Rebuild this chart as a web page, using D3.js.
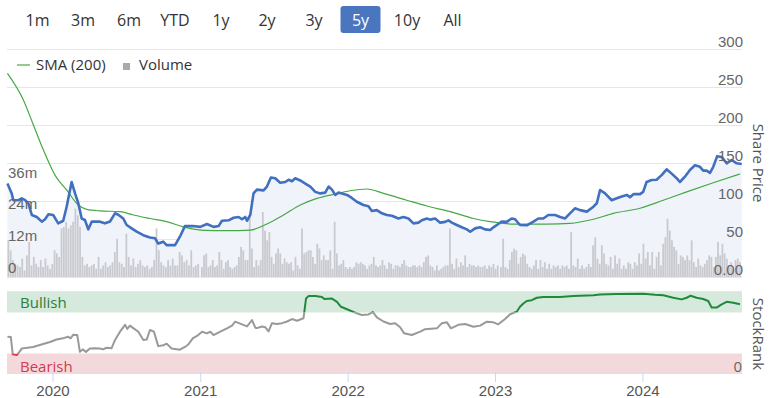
<!DOCTYPE html>
<html>
<head>
<meta charset="utf-8">
<script src="https://cdn.jsdelivr.net/npm/d3@7"></script>
<style>
    body { margin: 0; background: #fff; }
    svg { font-family: "Open Sans", sans-serif; display: block; }
</style>
</head>
<body>
<div id="plot"></div>
<script>
// Range buttons
const ranges = ["1m", "3m", "6m", "YTD", "1y", "2y", "3y", "5y", "10y", "All"];
const selectedRange = "5y";

// Share price, [decimal year, price]
const price = [
    [2019.694, 123], [2019.723, 110], [2019.734, 101], [2019.768, 101], [2019.791, 103.5],
    [2019.814, 101], [2019.836, 97], [2019.859, 81.6], [2019.893, 79], [2019.927, 72.8],
    [2019.949, 76], [2019.972, 82.5], [2020.005, 81.6], [2020.039, 70.6], [2020.073, 74],
    [2020.096, 92.5], [2020.130, 125], [2020.153, 110], [2020.175, 97], [2020.198, 77],
    [2020.220, 75], [2020.243, 62.7], [2020.266, 72.8], [2020.322, 72.8], [2020.356, 70.6],
    [2020.390, 73], [2020.424, 83.8], [2020.446, 82], [2020.480, 77], [2020.503, 68.4],
    [2020.537, 64], [2020.571, 59.6], [2020.616, 55], [2020.661, 52], [2020.695, 51],
    [2020.717, 44], [2020.751, 46.5], [2020.774, 42], [2020.831, 42], [2020.864, 53],
    [2020.898, 67], [2020.955, 67], [2021.000, 66], [2021.045, 69.7], [2021.090, 66],
    [2021.124, 67], [2021.147, 74], [2021.192, 74.6], [2021.226, 78], [2021.260, 79],
    [2021.283, 76], [2021.305, 79], [2021.317, 74], [2021.339, 81.6], [2021.361, 110],
    [2021.384, 115], [2021.429, 114], [2021.452, 119], [2021.479, 131], [2021.508, 130],
    [2021.542, 124], [2021.576, 125], [2021.599, 128], [2021.622, 126], [2021.644, 130],
    [2021.678, 127], [2021.712, 123], [2021.746, 119], [2021.780, 112], [2021.814, 110],
    [2021.847, 111], [2021.870, 119], [2021.893, 115], [2021.915, 108], [2021.938, 111],
    [2021.961, 110], [2021.995, 108], [2022.028, 104], [2022.062, 99], [2022.107, 94.7],
    [2022.141, 93], [2022.164, 86.8], [2022.198, 88], [2022.232, 83.8], [2022.266, 81.6],
    [2022.300, 80.5], [2022.344, 77], [2022.378, 79], [2022.412, 77], [2022.446, 70.6],
    [2022.480, 71.5], [2022.503, 74.6], [2022.537, 77], [2022.559, 75.5], [2022.593, 77],
    [2022.627, 71.5], [2022.661, 72.5], [2022.683, 74.6], [2022.706, 71.5], [2022.740, 68.4],
    [2022.774, 65.4], [2022.808, 62.7], [2022.831, 59.6], [2022.864, 64], [2022.898, 65.4],
    [2022.932, 62.7], [2022.966, 61.8], [2022.988, 65.4], [2023.022, 69.7], [2023.045, 72.8],
    [2023.079, 72.5], [2023.113, 77], [2023.136, 76], [2023.169, 68.4], [2023.215, 68],
    [2023.260, 72.8], [2023.294, 77], [2023.327, 77], [2023.361, 81.6], [2023.407, 81.6],
    [2023.441, 79], [2023.475, 77], [2023.508, 83.8], [2023.542, 90.4], [2023.576, 88],
    [2023.622, 86], [2023.667, 92.5], [2023.690, 97], [2023.712, 114.5], [2023.746, 110],
    [2023.791, 101], [2023.825, 103.5], [2023.859, 106], [2023.893, 108], [2023.915, 105],
    [2023.938, 109], [2023.983, 109], [2024.005, 112], [2024.028, 125], [2024.062, 127.6],
    [2024.096, 128], [2024.130, 134], [2024.164, 141.7], [2024.198, 136], [2024.232, 130],
    [2024.254, 125], [2024.288, 132], [2024.322, 140.8], [2024.356, 147], [2024.390, 145],
    [2024.412, 140], [2024.435, 140], [2024.458, 137], [2024.480, 145], [2024.507, 159],
    [2024.537, 158], [2024.571, 149.6], [2024.605, 154], [2024.639, 149.6], [2024.673, 148.7]
];

// SMA (200)
const sma = [
    [2019.694, 268], [2019.802, 233], [2019.870, 200], [2019.938, 167], [2019.983, 147],
    [2020.017, 134], [2020.096, 114.5], [2020.175, 94.7], [2020.232, 89], [2020.322, 87],
    [2020.458, 86], [2020.548, 81.6], [2020.661, 77], [2020.774, 72.8], [2020.887, 66],
    [2021.000, 61.8], [2021.181, 61], [2021.339, 61.8], [2021.452, 69.7], [2021.565, 81.6],
    [2021.678, 94.7], [2021.791, 103.5], [2021.904, 108.8], [2022.017, 113.5], [2022.130, 115.8],
    [2022.243, 110], [2022.401, 101], [2022.537, 93.4], [2022.695, 86], [2022.853, 77],
    [2022.966, 72.8], [2023.124, 69.7], [2023.351, 69.7], [2023.508, 70.6], [2023.667, 76],
    [2023.802, 83.8], [2023.983, 90.4], [2024.141, 101], [2024.300, 112], [2024.480, 124],
    [2024.661, 135.5]
];

// Weekly volume (millions), three stretches with their date spans
const volumeSpanA = [2019.700, 2020.988];
const volumeA = [
    13.9, 10.1, 6.4, 5.0, 4.4, 3.8, 7.0, 2.5, 8.2, 13.3, 4.4, 7.6, 5.0, 3.8, 6.4, 3.8,
    7.0, 4.4, 3.1, 5.0, 10.1, 8.9, 7.6, 18.4, 19.0, 20.9, 18.4, 19.6, 20.9, 25.9, 23.4, 19.0,
    7.6, 4.4, 5.0, 3.8, 4.4, 5.0, 3.1, 7.6, 3.1, 4.4, 5.6, 3.8, 4.4, 5.6, 9.5, 14.5,
    5.6, 5.0, 3.8, 16.4, 7.6, 4.4, 7.0, 3.8, 5.0, 6.4, 4.4, 3.8, 4.4, 3.1, 3.8, 6.4,
    18.4, 10.1, 5.6, 4.4, 3.8, 6.4, 4.4, 7.0, 4.4, 4.4, 9.5, 8.2, 5.6, 6.4, 4.4, 10.1,
    3.8, 4.4, 5.0
];
const volumeSpanB = [2021.011, 2023.018];
const volumeB = [
    3.8, 8.2, 8.9, 3.8, 4.4, 6.4, 3.8, 4.4, 9.5, 6.4, 3.1, 5.6, 6.4, 3.8, 3.1, 3.8,
    4.4, 7.6, 11.4, 10.1, 6.4, 6.4, 23.4, 10.8, 3.8, 6.4, 4.4, 6.4, 24.6, 17.6, 13.9, 17.0,
    7.6, 5.0, 8.9, 10.8, 8.9, 5.0, 7.0, 5.6, 5.0, 5.6, 2.5, 7.6, 4.4, 3.1, 18.4, 8.9,
    9.5, 10.1, 10.1, 7.6, 5.0, 12.6, 10.8, 6.4, 8.2, 6.4, 6.4, 10.1, 3.1, 20.9, 8.9, 4.4,
    5.0, 6.4, 3.8, 3.1, 3.8, 3.1, 3.8, 5.6, 5.0, 5.6, 5.0, 4.4, 3.1, 4.4, 5.0, 7.6,
    4.4, 3.8, 4.4, 6.4, 4.4, 3.1, 5.6, 5.0, 3.1, 4.4, 4.4, 3.8, 5.0, 6.4, 4.4, 3.8,
    3.8, 4.4, 4.4, 3.8, 4.4, 3.8, 5.6, 7.6, 8.2, 4.4, 3.8, 2.5, 4.4, 2.5, 3.1, 3.8,
    4.4, 4.4, 18.4, 5.0, 3.1, 7.0, 3.8, 5.6, 4.4, 8.2, 3.8, 5.0, 4.4, 4.4, 3.8, 4.4,
    3.8, 3.8, 4.4, 3.1, 4.4, 3.8, 5.0, 3.1, 4.4
];
const volumeSpanC = [2023.040, 2024.661];
const volumeC = [
    3.8, 14.5, 3.8, 3.1, 6.4, 9.5, 10.8, 10.1, 5.0, 7.6, 8.9, 8.2, 5.0, 3.8, 3.1, 4.4,
    6.4, 3.1, 6.4, 3.8, 5.6, 3.1, 5.0, 3.1, 4.4, 3.8, 4.4, 3.1, 4.4, 3.8, 4.4, 3.1,
    17.0, 4.4, 3.8, 7.0, 3.1, 4.4, 3.1, 3.8, 5.0, 3.8, 12.0, 15.1, 7.0, 5.0, 12.0, 8.9,
    5.0, 4.4, 7.6, 3.1, 8.2, 5.0, 7.0, 3.1, 4.4, 3.1, 5.6, 5.0, 3.1, 5.6, 4.4, 8.9,
    5.0, 12.6, 7.0, 9.5, 4.4, 9.5, 3.1, 7.6, 9.5, 4.4, 12.6, 15.1, 22.1, 17.6, 13.9, 11.4,
    10.1, 5.0, 8.2, 7.6, 6.4, 8.2, 6.4, 13.9, 5.6, 3.8, 7.0, 4.4, 3.8, 5.0, 6.4, 8.2,
    7.6, 3.8, 7.6, 13.3, 8.2, 12.6, 8.9, 7.0, 4.4, 5.6, 3.1, 6.4, 7.0, 5.6
];

// StockRank
const stockRank = [
    [2019.694, 45.5], [2019.717, 45], [2019.730, 24], [2019.757, 23], [2019.775, 27],
    [2019.791, 31], [2019.868, 33], [2019.936, 36.6], [2019.983, 39], [2020.028, 42],
    [2020.071, 43.5], [2020.105, 45.5], [2020.123, 43.5], [2020.141, 48], [2020.168, 47.5],
    [2020.186, 27], [2020.205, 30], [2020.227, 27], [2020.254, 31], [2020.288, 31.5],
    [2020.322, 31], [2020.342, 30], [2020.367, 32], [2020.401, 31.5], [2020.424, 41.5],
    [2020.458, 51.6], [2020.492, 60], [2020.507, 55], [2020.525, 59], [2020.548, 56],
    [2020.582, 51.6], [2020.616, 41.5], [2020.639, 42], [2020.661, 53.7], [2020.688, 51.6],
    [2020.717, 34], [2020.751, 35], [2020.774, 37], [2020.808, 31], [2020.864, 29.6],
    [2020.898, 33], [2020.921, 36], [2020.951, 43.5], [2020.988, 47.5], [2021.012, 51.6],
    [2021.045, 49.6], [2021.068, 51.6], [2021.090, 47.5], [2021.136, 51.6], [2021.181, 55.7],
    [2021.215, 59], [2021.237, 63.8], [2021.283, 60.6], [2021.317, 58], [2021.351, 65.8],
    [2021.373, 56.5], [2021.384, 56], [2021.418, 58], [2021.441, 57], [2021.463, 52],
    [2021.486, 62], [2021.520, 61], [2021.554, 62], [2021.588, 64], [2021.622, 67],
    [2021.656, 65], [2021.700, 68], [2021.717, 92], [2021.734, 95], [2021.780, 95],
    [2021.825, 94], [2021.841, 91.5], [2021.893, 92], [2021.927, 88], [2021.954, 82],
    [2021.995, 79], [2022.062, 74], [2022.096, 72], [2022.141, 72.6], [2022.171, 75.6],
    [2022.198, 69], [2022.243, 64], [2022.288, 61], [2022.322, 62], [2022.356, 57],
    [2022.383, 49.6], [2022.435, 47.5], [2022.492, 51.6], [2022.525, 54.7], [2022.605, 55.7],
    [2022.639, 62], [2022.673, 63], [2022.700, 55.7], [2022.751, 60], [2022.797, 61],
    [2022.853, 57.7], [2022.898, 59], [2022.944, 63.8], [2022.988, 63], [2023.022, 60.6],
    [2023.068, 67], [2023.102, 72.8], [2023.147, 76], [2023.169, 82], [2023.192, 86],
    [2023.215, 89], [2023.249, 90], [2023.283, 93], [2023.327, 94], [2023.441, 94],
    [2023.531, 95], [2023.667, 96], [2023.712, 97], [2023.825, 97.5], [2024.005, 98],
    [2024.085, 96.6], [2024.141, 96], [2024.209, 93], [2024.266, 91], [2024.300, 93],
    [2024.327, 95.5], [2024.367, 93], [2024.412, 91.5], [2024.446, 89], [2024.469, 81],
    [2024.503, 81], [2024.537, 85], [2024.571, 88], [2024.616, 87], [2024.661, 85]
];

const priceTicks = [0, 50, 100, 150, 200, 250, 300];
const volumeTicks = [0, 12, 24, 36];
const rankBands = { bearish: 25, bullish: 75 };

// decimal year -> Date
function toDate(t) {
    const y = Math.floor(t);
    return new Date(new Date(y, 0, 1).getTime() + (t - y) * 365.25 * 864e5);
}

const width = 771;
const height = 398;
const left = 7, right = 742;

const svg = d3.select("#plot")
    .append("svg")
    .attr("width", width)
    .attr("height", height);

const x = d3.scaleTime()
    .domain([toDate(2019.691), toDate(2024.675)])
    .range([left, right]);

const yPrice = d3.scaleLinear().domain([0, 300]).range([277, 49]);
const yVol = d3.scaleLinear().domain([0, 36]).range([277, 182]);
const yRank = d3.scaleLinear().domain([0, 100]).range([374, 292]);

// Range buttons
const btn = svg.append("g")
    .selectAll("g")
    .data(ranges)
    .join("g")
    .attr("transform", (d, i) => `translate(${[37.5, 83, 129, 175, 221, 267, 314, 360.5, 407, 452.5][i]},20)`);

btn.filter((d) => d === selectedRange)
    .append("rect")
    .attr("x", -20).attr("y", -14)
    .attr("width", 40).attr("height", 27)
    .attr("rx", 3)
    .attr("fill", "#4a76c0");

btn.append("text")
    .attr("text-anchor", "middle")
    .attr("dy", "0.36em")
    .style("font-size", "16px")
    .attr("fill", (d) => d === selectedRange ? "#fff" : "#333")
    .text((d) => d);

// Price gridlines
const priceAxis = d3.axisRight(yPrice).tickValues(priceTicks).tickSize(-(right - left))
    .tickFormat((d) => d === 0 ? "0.00" : d);

svg.append("g")
    .attr("transform", `translate(${right},0)`)
    .call(priceAxis)
    .call((g) => g.select(".domain").remove())
    .call((g) => g.selectAll("text").remove())
    .call((g) => g.selectAll("line").attr("stroke", "#e6e6e6"));

// Price area fill
svg.append("path")
    .datum(price)
    .attr("fill", "#f1f3fa")
    .attr("d", d3.area()
        .x((d) => x(toDate(d[0])))
        .y0(yPrice(0))
        .y1((d) => yPrice(d[1])));

// Volume bars
const volBars = [];
[[volumeA, volumeSpanA], [volumeB, volumeSpanB], [volumeC, volumeSpanC]].forEach(([vals, span]) => {
    vals.forEach((v, i) => {
        volBars.push({ t: span[0] + i * (span[1] - span[0]) / (vals.length - 1), v: v });
    });
});

svg.append("g")
    .selectAll("rect")
    .data(volBars)
    .join("rect")
    .attr("x", (d) => x(toDate(d.t)) - 0.9)
    .attr("width", 1.8)
    .attr("y", (d) => yVol(d.v))
    .attr("height", (d) => yVol(0) - yVol(d.v))
    .attr("fill", "#c9cacf");

// SMA line
svg.append("path")
    .datum(sma)
    .attr("fill", "none")
    .attr("stroke", "#45a845")
    .attr("stroke-width", 1.2)
    .attr("d", d3.line()
        .curve(d3.curveMonotoneX)
        .x((d) => x(toDate(d[0])))
        .y((d) => yPrice(d[1])));

// Price line
svg.append("path")
    .datum(price)
    .attr("fill", "none")
    .attr("stroke", "#4070bf")
    .attr("stroke-width", 2.6)
    .attr("stroke-linejoin", "round")
    .attr("d", d3.line()
        .x((d) => x(toDate(d[0])))
        .y((d) => yPrice(d[1])));

// Price labels (right), drawn over the marks
svg.append("g")
    .attr("transform", `translate(${right},0)`)
    .call(priceAxis.tickSize(0))
    .call((g) => g.select(".domain").remove())
    .call((g) => g.selectAll("line").remove())
    .call((g) => g.selectAll("text")
        .attr("x", 1).attr("y", -8).attr("dy", "0.35em")
        .attr("text-anchor", "end")
        .attr("fill", "#666")
        .style("font-size", "15px"));

// Volume labels (left)
svg.append("g")
    .attr("transform", `translate(${left},0)`)
    .call(d3.axisLeft(yVol).tickValues(volumeTicks).tickSize(0)
        .tickFormat((d) => d === 0 ? "0" : d + "m"))
    .call((g) => g.select(".domain").remove())
    .call((g) => g.selectAll("text")
        .attr("x", 1).attr("y", -10).attr("dy", "0.35em")
        .attr("text-anchor", "start")
        .attr("fill", "#666")
        .style("font-size", "15px"));

// Legend
const legend = svg.append("g").attr("transform", "translate(17,65)");
legend.append("line").attr("x1", 0).attr("x2", 13).attr("stroke", "#45a845").attr("stroke-width", 1.2);
legend.append("text").attr("x", 19).attr("dy", "0.35em").style("font-size", "15px").attr("fill", "#333").text("SMA (200)");
legend.append("rect").attr("x", 106).attr("y", -2).attr("width", 7).attr("height", 7).attr("fill", "#aaa");
legend.append("text").attr("x", 122).attr("dy", "0.35em").style("font-size", "15px").attr("fill", "#333").text("Volume");

svg.append("text")
    .attr("transform", "translate(758,163) rotate(90)")
    .attr("text-anchor", "middle")
    .attr("dy", "0.35em")
    .style("font-size", "15px")
    .attr("fill", "#555")
    .text("Share Price");

// StockRank panel
svg.append("line")
    .attr("x1", left).attr("x2", right)
    .attr("y1", 291.5).attr("y2", 291.5)
    .attr("stroke", "#e6e6e6");

svg.append("rect")
    .attr("x", left).attr("width", right - left)
    .attr("y", yRank(100)).attr("height", yRank(rankBands.bullish) - yRank(100))
    .attr("fill", "#d5e9dc");

svg.append("rect")
    .attr("x", left).attr("width", right - left)
    .attr("y", yRank(rankBands.bearish)).attr("height", yRank(0) - yRank(rankBands.bearish))
    .attr("fill", "#f4d9dc");

svg.append("text").attr("x", 20).attr("y", yRank(87.5)).attr("dy", "0.35em")
    .style("font-size", "15px").attr("fill", "#2f7d3b").text("Bullish");
svg.append("text").attr("x", 20).attr("y", yRank(9)).attr("dy", "0.35em")
    .style("font-size", "15px").attr("fill", "#d33a4f").text("Bearish");
svg.append("text").attr("x", 742).attr("y", yRank(9)).attr("dy", "0.35em")
    .attr("text-anchor", "end")
    .style("font-size", "15px").attr("fill", "#666").text("0");

// X axis
svg.append("g")
    .attr("transform", `translate(0,372)`)
    .call(d3.axisBottom(x).ticks(d3.timeYear.every(1)).tickSize(10).tickFormat(d3.timeFormat("%Y")))
    .call((g) => g.select(".domain").remove())
    .call((g) => g.selectAll("line").attr("stroke", "#ccd6eb"))
    .call((g) => g.selectAll("text").attr("fill", "#555").style("font-size", "15px"));

// Rank line, coloured by band via clip paths
const bandClips = [
    { id: "clipBull", y0: 280, y1: yRank(rankBands.bullish), color: "#1f8a3c" },
    { id: "clipMid", y0: yRank(rankBands.bullish), y1: yRank(rankBands.bearish), color: "#999" },
    { id: "clipBear", y0: yRank(rankBands.bearish), y1: 390, color: "#dc3c50" }
];

const rankLine = d3.line()
    .x((d) => x(toDate(d[0])))
    .y((d) => yRank(d[1]));

bandClips.forEach((b) => {
    svg.append("clipPath")
        .attr("id", b.id)
        .append("rect")
        .attr("x", 0).attr("y", b.y0)
        .attr("width", width).attr("height", b.y1 - b.y0);

    svg.append("path")
        .datum(stockRank)
        .attr("clip-path", `url(#${b.id})`)
        .attr("fill", "none")
        .attr("stroke", b.color)
        .attr("stroke-width", 2)
        .attr("stroke-linejoin", "round")
        .attr("d", rankLine);
});

svg.append("text")
    .attr("transform", "translate(758,334) rotate(90)")
    .attr("text-anchor", "middle")
    .attr("dy", "0.35em")
    .style("font-size", "15px")
    .attr("fill", "#555")
    .text("StockRank");
</script>
</body>
</html>
